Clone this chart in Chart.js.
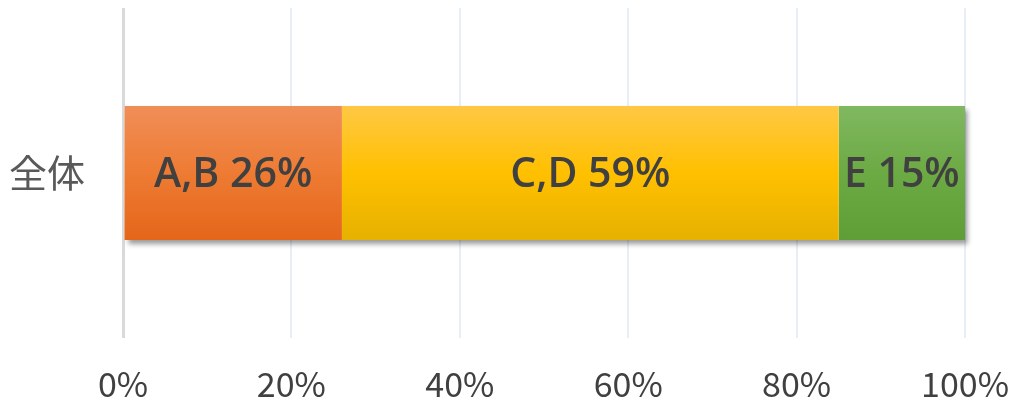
<!DOCTYPE html>
<html>
<head>
<meta charset="utf-8">
<script src="https://cdn.jsdelivr.net/npm/chart.js@4"></script>
<style>
  html, body { margin: 0; padding: 0; background: #fff; overflow: hidden; }
  canvas { display: block; }
</style>
</head>
<body>
<canvas id="chart" width="1011" height="405"></canvas>
<script>
const categories = ["全体"];
const seriesNames = ["A,B", "C,D", "E"];
const seriesValues = [[26], [59], [15]];
const xTicks = [0, 20, 40, 60, 80, 100];

// gradient stops per segment (top -> bottom)
const gradStops = [
  ["#F08E58", "#EE7B33", "#E4661A"],
  ["#FFC845", "#FFC000", "#E6B100"],
  ["#80B860", "#6CAA44", "#5F9E36"]
];
const barPct = 0.406;

function grad(ctx, stops) {
  const area = ctx.chart.chartArea;
  if (!area || !isFinite(area.top)) return stops[1];
  const mid = (area.top + area.bottom) / 2;
  const half = (area.bottom - area.top) * barPct / 2;
  const g = ctx.chart.ctx.createLinearGradient(0, mid - half, 0, mid + half);
  g.addColorStop(0, stops[0]);
  g.addColorStop(0.5, stops[1]);
  g.addColorStop(1, stops[2]);
  return g;
}

// one soft drop shadow under the whole stacked bar
const shadowPlugin = {
  id: "shadow",
  beforeDatasetsDraw(chart) {
    const n = chart.data.datasets.length;
    const first = chart.getDatasetMeta(0).data;
    const last = chart.getDatasetMeta(n - 1).data;
    const c = chart.ctx;
    c.save();
    c.shadowColor = "rgba(0,0,0,0.4)";
    c.shadowBlur = 5;
    c.shadowOffsetX = 3;
    c.shadowOffsetY = 4;
    c.fillStyle = "#ffffff";
    first.forEach((bar, j) => {
      const x0 = bar.base, x1 = last[j].x;
      c.fillRect(x0, bar.y - bar.height / 2, x1 - x0, bar.height);
    });
    c.restore();
  }
};

// "name value%" inside each segment
const labelPlugin = {
  id: "segLabels",
  afterDatasetsDraw(chart) {
    const c = chart.ctx;
    c.save();
    c.font = "600 41px 'Open Sans'";
    c.fillStyle = "#404040";
    c.textAlign = "center";
    c.textBaseline = "middle";
    chart.data.datasets.forEach((ds, i) => {
      chart.getDatasetMeta(i).data.forEach((bar, j) => {
        const cx = (bar.base + bar.x) / 2;
        c.fillText(ds.label + " " + ds.data[j] + "%", cx, bar.y + 2);
      });
    });
    c.restore();
  }
};

new Chart(document.getElementById("chart"), {
  type: "bar",
  data: {
    labels: categories,
    datasets: seriesNames.map((name, i) => ({
      label: name,
      data: seriesValues[i],
      backgroundColor: ctx => grad(ctx, gradStops[i]),
      borderWidth: 0,
      barPercentage: barPct,
      categoryPercentage: 1
    }))
  },
  options: {
    indexAxis: "y",
    responsive: false,
    animation: false,
    devicePixelRatio: 1,
    layout: { padding: { top: 8, bottom: 0, left: 0, right: 0 } },
    plugins: { legend: { display: false }, tooltip: { enabled: false } },
    scales: {
      x: {
        stacked: true,
        min: 0,
        max: 100,
        afterBuildTicks: s => { s.ticks = xTicks.map(v => ({ value: v })); },
        afterFit: s => { s.height = 67; s.paddingRight = 46; },
        ticks: {
          callback: v => v + "%",
          font: { family: "'Noto Sans CJK JP'", size: 34 },
          color: "#404040",
          padding: 26,
          maxRotation: 0
        },
        grid: {
          color: ctx => ctx.index === 0 ? "#D9D9D9" : "#E7EEF6",
          lineWidth: ctx => ctx.index === 0 ? 3 : 2,
          drawTicks: false
        },
        border: { display: false }
      },
      y: {
        stacked: true,
        afterFit: s => { s.width = 123; s.paddingTop = 0; s.paddingBottom = 0; },
        ticks: {
          font: { family: "'Noto Sans CJK JP'", size: 38 },
          color: "#595959",
          padding: 30
        },
        grid: { display: false },
        border: { display: false }
      }
    }
  },
  plugins: [shadowPlugin, labelPlugin]
});
</script>
</body>
</html>
